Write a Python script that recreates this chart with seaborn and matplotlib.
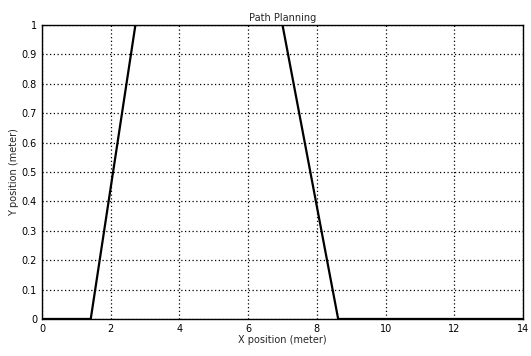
import matplotlib
matplotlib.use("Agg")
import matplotlib.pyplot as plt
import seaborn as sns
import pandas as pd
import numpy as np

x_pos = [0, 1.42, 2.72, 7.0, 8.62, 14]
y_pos = [0, 0, 1, 1, 0, 0]
x_ticks = [0, 2, 4, 6, 8, 10, 12, 14]
y_ticks = [0, 0.1, 0.2, 0.3, 0.4, 0.5, 0.6, 0.7, 0.8, 0.9, 1]
y_tick_labels = ["0", "0.1", "0.2", "0.3", "0.4", "0.5", "0.6", "0.7", "0.8", "0.9", "1"]

sns.set_style("white")
plt.rcParams['font.family'] = ['DejaVu Sans']

df = pd.DataFrame({"x": x_pos, "y": y_pos})
fig = plt.figure(figsize=(5.31, 3.56), dpi=100)
ax = fig.add_axes([0.079, 0.104, 0.906, 0.826])
sns.lineplot(data=df, x="x", y="y", ax=ax, color="black", linewidth=1.6, sort=False)
ax.set_xlim(0, 14)
ax.set_ylim(0, 1)
ax.set_xticks(x_ticks)
ax.set_xticklabels([str(t) for t in x_ticks])
ax.set_yticks(y_ticks)
ax.set_yticklabels(y_tick_labels)
ax.grid(True, linestyle=(0, (1, 2)), color="black", linewidth=0.9)
for s in ax.spines.values():
    s.set_color("black")
    s.set_linewidth(1.0)
ax.tick_params(axis="both", labelsize=7, length=2, direction="in", colors="black")
ax.set_title("Path Planning", fontsize=7, pad=3)
ax.set_xlabel("X position (meter)", fontsize=7, labelpad=1)
ax.set_ylabel("Y position (meter)", fontsize=7, labelpad=2)
fig.savefig("out.png", dpi=100, facecolor="white")
